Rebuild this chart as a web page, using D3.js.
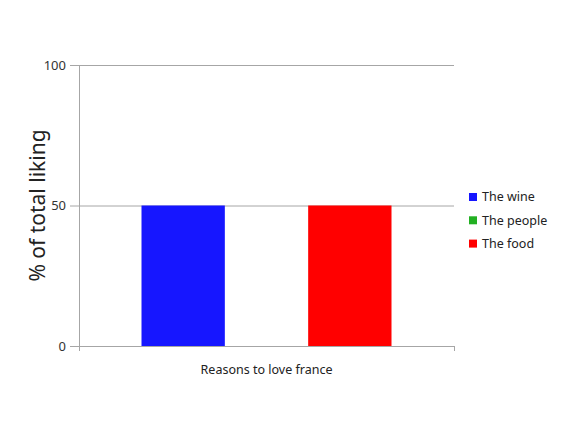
<!DOCTYPE html>
<html>
<head>
<meta charset="utf-8">
<script src="https://cdn.jsdelivr.net/npm/d3@7"></script>
<style>
  body { margin: 0; background: #fff; }
  text { font-family: "Noto Sans", "Open Sans", sans-serif; fill: #222; }
</style>
</head>
<body>
<svg width="575" height="426"></svg>
<script>
var categories = ["Reasons to love france"];
var seriesNames = ["The wine", "The people", "The food"];
var seriesValues = [50, 0, 50];
var seriesColors = ["#1616ff", "#22b022", "#ff0000"];
var yTicks = [0, 50, 100];

var svg = d3.select("svg"),
    margin = {top: 65, left: 79, right: 121, bottom: 80},
    width = 575, height = 426,
    plotW = width - margin.left - margin.right,
    plotH = 346 - margin.top;

var x = d3.scaleBand()
      .domain(categories)
      .range([margin.left, margin.left + plotW])
      .paddingOuter(0.25)
      .paddingInner(0);

var xs = d3.scaleBand()
      .domain(seriesNames)
      .range([0, x.bandwidth()]);

var y = d3.scaleLinear()
      .domain([0, 100])
      .range([margin.top + plotH, margin.top]);

// grid lines
svg.append("g")
    .attr("class", "grid")
    .attr("transform", "translate(" + margin.left + ",0)")
    .call(d3.axisLeft(y).tickValues(yTicks).tickSize(-plotW).tickFormat(""))
    .call(g => g.select(".domain").remove())
    .selectAll("line")
    .style("stroke", "#a6a6a6");

// bars
categories.forEach(function(cat) {
  svg.selectAll(null)
    .data(seriesNames)
    .enter()
    .append("rect")
    .attr("x", d => x(cat) + xs(d))
    .attr("y", (d, i) => y(seriesValues[i]))
    .attr("width", xs.bandwidth())
    .attr("height", (d, i) => y(0) - y(seriesValues[i]))
    .style("fill", (d, i) => seriesColors[i]);
});

// y axis
var yAxis = svg.append("g")
    .attr("transform", "translate(" + margin.left + ",0)")
    .call(d3.axisLeft(y).tickValues(yTicks).tickSize(9).tickPadding(4));
yAxis.selectAll("line, path").style("stroke", "#a6a6a6");
yAxis.selectAll("text").style("font-size", "13px").style("fill", "#333")
    .style("font-family", "Noto Sans, sans-serif");

// x axis
var xAxis = svg.append("g")
    .attr("transform", "translate(0," + y(0) + ")")
    .call(d3.axisBottom(d3.scaleLinear().domain([0, 1]).range([margin.left, margin.left + plotW]))
          .tickValues([0, 1]).tickSize(5).tickFormat(""));
xAxis.selectAll("line, path").style("stroke", "#a6a6a6");

svg.append("text")
    .attr("x", margin.left + plotW / 2)
    .attr("y", y(0) + 28)
    .attr("text-anchor", "middle")
    .style("font-size", "12.5px")
    .text(categories[0]);

svg.append("text")
    .attr("transform", "rotate(-90)")
    .attr("x", -(margin.top + plotH / 2))
    .attr("y", 45)
    .attr("text-anchor", "middle")
    .style("font-size", "21px")
    .text("% of total liking");

// legend
var legend = svg.selectAll(".legend")
    .data(seriesNames)
    .enter()
    .append("g")
    .attr("class", "legend")
    .attr("transform", (d, i) => "translate(469," + (193 + i * 23.3) + ")");

legend.append("rect")
    .attr("width", 8)
    .attr("height", 8)
    .style("fill", (d, i) => seriesColors[i]);

legend.append("text")
    .attr("x", 13)
    .attr("y", 4)
    .attr("dy", "0.35em")
    .style("font-size", "12.5px")
    .text(d => d);
</script>
</body>
</html>
